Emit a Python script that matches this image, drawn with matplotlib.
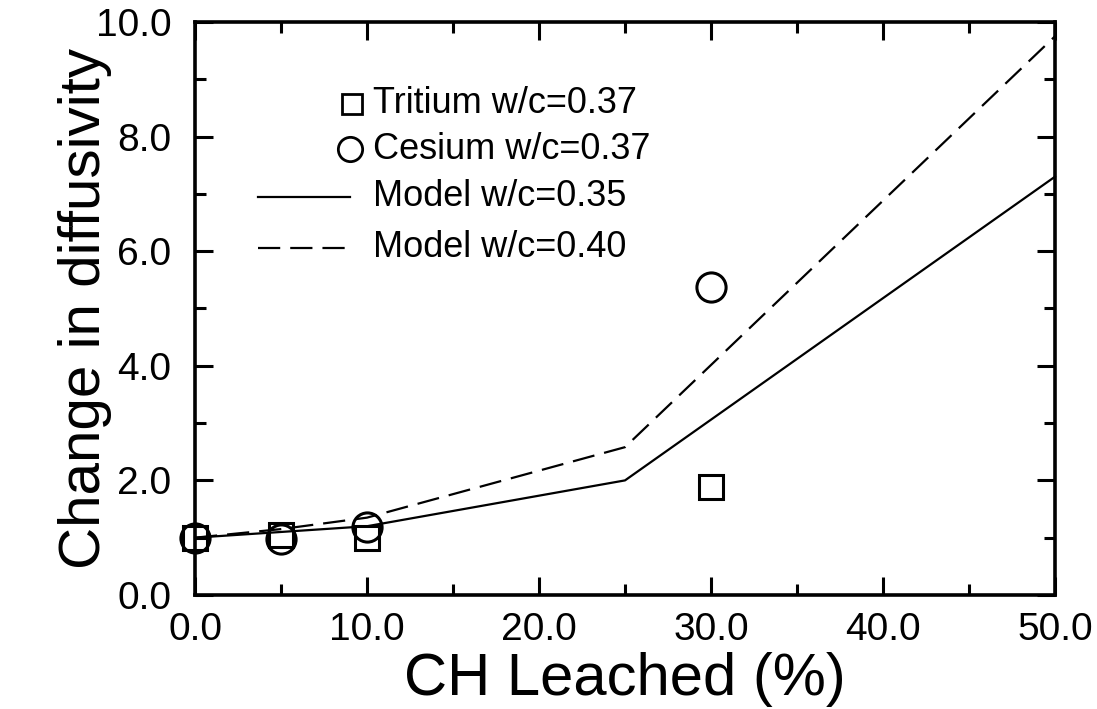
import matplotlib.pyplot as plt
from matplotlib.lines import Line2D
from matplotlib.ticker import MultipleLocator, FormatStrFormatter

plt.rcParams['font.family'] = ['Liberation Sans', 'DejaVu Sans']

# data
tritium_x = [0, 5, 10, 30]
tritium_y = [1.0, 1.05, 1.0, 1.88]
cesium_x = [0, 5, 10, 30]
cesium_y = [1.0, 0.97, 1.18, 5.37]
model35_x = [0, 5, 10, 25, 50]
model35_y = [1.0, 1.1, 1.2, 2.0, 7.3]
model40_x = [0, 5, 10, 25, 50]
model40_y = [1.0, 1.15, 1.35, 2.58, 9.75]

legend_labels = ['Tritium w/c=0.37', 'Cesium w/c=0.37', 'Model w/c=0.35', 'Model w/c=0.40']

fig = plt.figure(figsize=(10.97, 7.09), dpi=100)
ax = fig.add_axes([0.1778, 0.1608, 0.7839, 0.8082])

dash = (0, (10, 4.5))
ax.plot(model35_x, model35_y, color='black', lw=1.6, clip_on=False)
ax.plot(model40_x, model40_y, color='black', lw=1.6, linestyle=dash, clip_on=False)
ax.plot(tritium_x, tritium_y, linestyle='none', marker='s', ms=17.5, mfc='none',
        mec='black', mew=2.2, clip_on=False)
ax.plot(cesium_x, cesium_y, linestyle='none', marker='o', ms=21, mfc='none',
        mec='black', mew=2.2, clip_on=False)

ax.set_xlim(0, 50)
ax.set_ylim(0, 10)
ax.xaxis.set_major_locator(MultipleLocator(10))
ax.xaxis.set_minor_locator(MultipleLocator(5))
ax.yaxis.set_major_locator(MultipleLocator(2))
ax.yaxis.set_minor_locator(MultipleLocator(1))
ax.xaxis.set_major_formatter(FormatStrFormatter('%.1f'))
ax.yaxis.set_major_formatter(FormatStrFormatter('%.1f'))
ax.tick_params(which='both', direction='in', top=True, right=True, width=2.2,
               labelsize=28, color='black')
ax.tick_params(which='major', length=13)
ax.tick_params(which='minor', length=8)
ax.tick_params(axis='y', which='major', pad=17)
ax.tick_params(axis='x', which='major', pad=12)
for s in ax.spines.values():
    s.set_linewidth(2.6)

ax.set_xlabel('CH Leached (%)', fontsize=43, labelpad=3)
ax.set_ylabel('Change in diffusivity', fontsize=42, labelpad=-12)

# legend drawn by hand: markers sit at the right end of the handle
rows_y = [0.857, 0.778, 0.695, 0.606]
x_text = 0.207
x_l0, x_l1 = 0.073, 0.180
ax.add_line(Line2D([0.183], [rows_y[0]], marker='s', ms=14, mfc='none', mec='black',
                   mew=2.0, transform=ax.transAxes))
ax.add_line(Line2D([0.180], [rows_y[1]], marker='o', ms=17.5, mfc='none', mec='black',
                   mew=2.0, transform=ax.transAxes))
ax.add_line(Line2D([x_l0, x_l1], [rows_y[2]] * 2, color='black', lw=1.6,
                   transform=ax.transAxes))
ax.add_line(Line2D([x_l0, x_l1], [rows_y[3]] * 2, color='black', lw=1.6,
                   linestyle=dash, transform=ax.transAxes))
for yy, lab in zip(rows_y, legend_labels):
    ax.text(x_text, yy, lab, transform=ax.transAxes, fontsize=26, va='center', ha='left')

fig.savefig('out.png', dpi=100)
